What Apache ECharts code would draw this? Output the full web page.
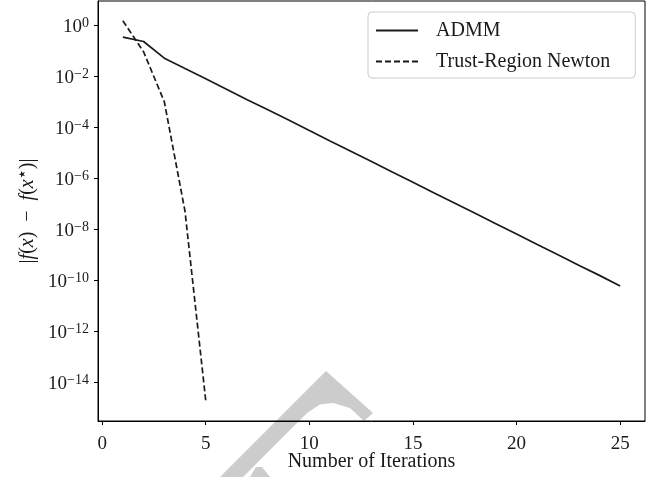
<!DOCTYPE html>
<html>
<head>
<meta charset="utf-8">
<script src="https://cdn.jsdelivr.net/npm/echarts@6/dist/echarts.min.js"></script>
<style>
  html, body { margin: 0; padding: 0; background: #fff; }
  #chart { width: 660px; height: 477px; }
</style>
</head>
<body>
<div id="chart"></div>
<script>
// values
var admmIter = [1, 2, 3, 4, 5, 6, 7, 8, 9, 10, 11, 12, 13, 14, 15, 16, 17, 18, 19, 20, 21, 22, 23, 24, 25];
var admmGap = [0.34, 0.23, 0.051, 0.020, 7.9e-3, 3.1e-3, 1.2e-3, 4.8e-4, 1.9e-4, 7.4e-5, 2.9e-5, 1.15e-5,
  4.5e-6, 1.75e-6, 6.9e-7, 2.7e-7, 1.07e-7, 4.2e-8, 1.65e-8, 6.5e-9, 2.5e-9, 1.0e-9, 3.9e-10, 1.55e-10, 6.0e-11];
var trIter = [1, 2, 3, 4, 5];
var trGap = [1.5, 0.091, 1.0e-3, 5.0e-8, 1.9e-15];

var xTicks = [0, 5, 10, 15, 20, 25];
var yTicks = [1, 1e-2, 1e-4, 1e-6, 1e-8, 1e-10, 1e-12, 1e-14];

var serif = 'Liberation Serif';
var ink = '#1a1a1a';

function pairs(xs, ys) {
  return xs.map(function (x, i) { return [x, ys[i]]; });
}

function powLabel(v) {
  var e = Math.round(Math.log10(v));
  var s = e < 0 ? '\u2212' + (-e) : String(e);
  return '{b|10}{s|' + s + '}';
}

var chart = echarts.init(document.getElementById('chart'), null, { renderer: 'canvas' });

var option = {
  animation: false,
  backgroundColor: '#fff',
  grid: {
    left: 98, top: 1, right: 15, bottom: 56,
    outerBoundsMode: 'none', containLabel: false,
    show: true, borderColor: '#000', borderWidth: 1
  },
  legend: {
    left: 368, top: 12,
    orient: 'vertical',
    itemWidth: 42, itemHeight: 14, itemGap: 10,
    padding: [8, 25, 6, 7],
    backgroundColor: '#fff',
    borderColor: '#cccccc', borderWidth: 1, borderRadius: 4,
    itemStyle: { opacity: 0 },
    textStyle: { fontFamily: serif, fontSize: 20, color: ink, lineHeight: 21, padding: [0, 0, 0, 13] },
    data: ['ADMM', 'Trust-Region Newton']
  },
  xAxis: {
    type: 'value',
    min: -0.2, max: 26.2,
    name: 'Number of Iterations',
    nameLocation: 'middle', nameGap: 31, nameMoveOverlap: false,
    nameTextStyle: { fontFamily: serif, fontSize: 20, color: ink },
    axisLine: { show: true, onZero: false, lineStyle: { color: '#000', width: 1 } },
    axisTick: { show: true, length: 4, lineStyle: { color: '#000' }, customValues: xTicks },
    axisLabel: { fontFamily: serif, fontSize: 19, color: ink, margin: 14, customValues: xTicks },
    splitLine: { show: false }
  },
  yAxis: {
    type: 'log', logBase: 10,
    min: 3.02e-16, max: 8.9,
    name: '{n||}{i|f}{n|(}{i|x}{n|)  \u2212  }{i|f}{n|(}{i|x}{s|\u2605}{n|)|}',
    nameLocation: 'middle', nameGap: 60, nameRotate: 90, nameMoveOverlap: false,
    nameTextStyle: {
      fontFamily: serif, fontSize: 20, color: ink,
      rich: {
        n: { fontFamily: serif, fontSize: 20, color: ink },
        i: { fontFamily: serif, fontSize: 20, fontStyle: 'italic', color: ink },
        s: { fontFamily: 'DejaVu Sans', fontSize: 9, color: ink, verticalAlign: 'top', padding: [0, 1, 0, 1] }
      }
    },
    axisLine: { show: true, onZero: false, lineStyle: { color: '#000', width: 1 } },
    axisTick: { show: true, length: 4, lineStyle: { color: '#000' }, customValues: yTicks },
    axisLabel: {
      margin: 9,
      customValues: yTicks,
      formatter: powLabel,
      rich: {
        b: { fontFamily: serif, fontSize: 19, color: ink, lineHeight: 20, padding: [3, 0, 0, 0] },
        s: { fontFamily: serif, fontSize: 14, color: ink, lineHeight: 13, verticalAlign: 'top', padding: [1, 0, 0, 0] }
      }
    },
    splitLine: { show: false },
    minorTick: { show: false }
  },
  graphic: {
    elements: [
      {
        type: 'polygon', z: -100, silent: true,
        shape: { points: [[220, 477], [326, 371], [373, 413], [364, 421], [350, 408], [333, 403],
          [320, 404.5], [307, 413], [297, 423], [279, 441], [243, 477]] },
        style: { fill: '#cccccc' }
      },
      {
        type: 'polygon', z: -100, silent: true,
        shape: { points: [[250, 477], [256, 467], [262, 467], [270, 477]] },
        style: { fill: '#cccccc' }
      }
    ]
  },
  series: [
    {
      name: 'ADMM',
      type: 'line',
      data: pairs(admmIter, admmGap),
      symbol: 'none',
      lineStyle: { color: ink, width: 1.7 },
      itemStyle: { color: ink }
    },
    {
      name: 'Trust-Region Newton',
      type: 'line',
      data: pairs(trIter, trGap),
      symbol: 'none',
      lineStyle: { color: ink, width: 1.7, type: [6, 3] },
      itemStyle: { color: ink }
    }
  ]
};

chart.setOption(option);
</script>
</body>
</html>
